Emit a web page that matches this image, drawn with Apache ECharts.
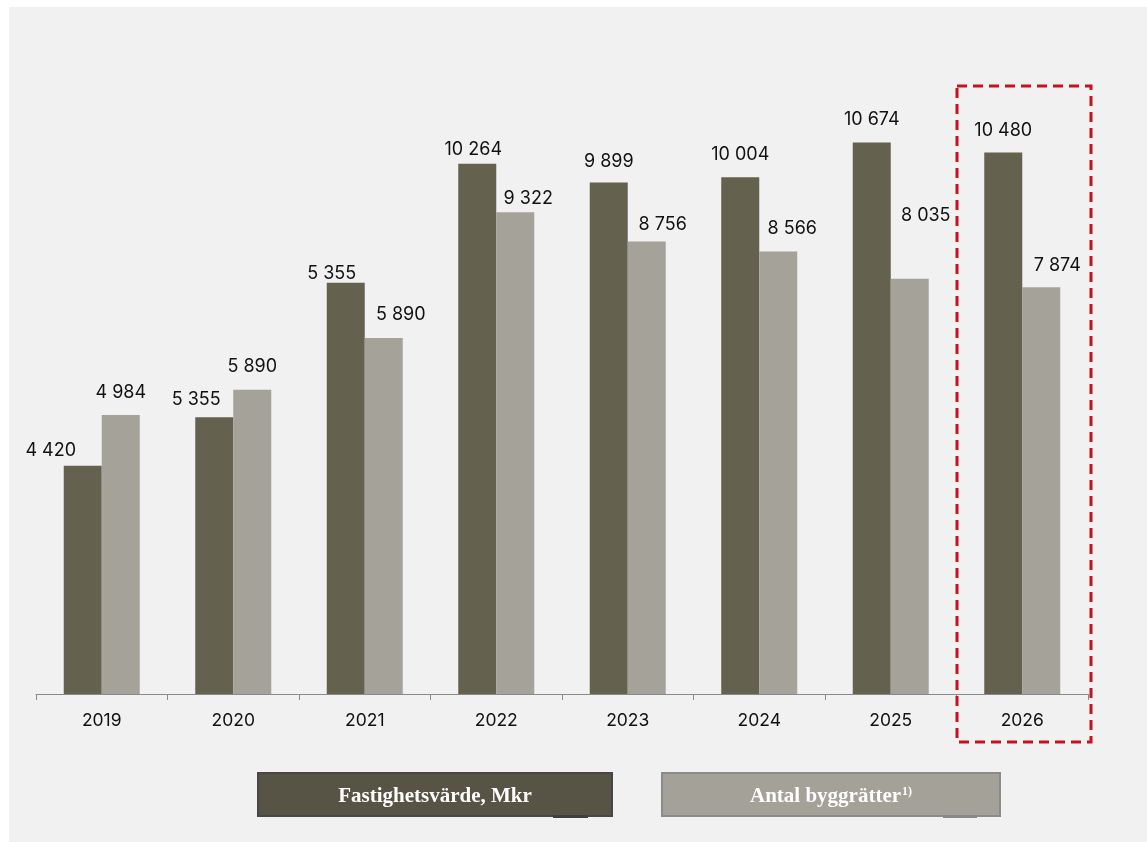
<!DOCTYPE html>
<html>
<head>
<meta charset="utf-8">
<script src="https://cdn.jsdelivr.net/npm/echarts@6/dist/echarts.min.js"></script>
<style>
html,body{margin:0;padding:0;background:#ffffff;}
#chart{width:1147px;height:842px;}
</style>
</head>
<body>
<div id="chart"></div>
<script>
// ---- data ----
var years = ['2019','2020','2021','2022','2023','2024','2025','2026'];
// bar heights as drawn in the picture
var fastighetsvarde = [4420, 5355, 7961, 10264, 9899, 10004, 10674, 10480];
var byggratter = [5400, 5890, 6890, 9322, 8756, 8566, 8035, 7874];
// value labels as printed
var fastighetsvardeLabels = ['4 420','5 355','5 355','10 264','9 899','10 004','10 674','10 480'];
var byggratterLabels = ['4 984','5 890','5 890','9 322','8 756','8 566','8 035','7 874'];
var seriesNames = ['Fastighetsvärde, Mkr', 'Antal byggrätter'];
var highlightYear = '2026';

// ---- styling (label nudges) ----
var darkLabelNudge = [[-32,-6],[-18,-9],[-14,0],[-4,-5],[0,-12],[0,-14],[0,-14],[0,-13]];
var lightLabelNudge = [[0,-13],[0,-14],[17,-14],[13,-5],[16,-8],[14,-14],[16,-54],[16,-13]];

var DARK = '#65614f', LIGHT = '#a5a29a';
var numFont = 'Inter, "Noto Sans", sans-serif';

function buildData(vals, labels, nudges) {
  return vals.map(function (v, i) {
    return { value: v, label: { formatter: labels[i], offset: nudges[i] } };
  });
}

var chart = echarts.init(document.getElementById('chart'), null, {renderer: 'canvas'});
var option = {
  backgroundColor: 'transparent',
  animation: false,
  grid: { left: 36, right: 59, top: 74, bottom: 148, containLabel: false },
  xAxis: {
    type: 'category',
    data: years,
    axisLine: { lineStyle: { color: '#8a8a8a', width: 1 } },
    axisTick: { show: true, length: 6, lineStyle: { color: '#8a8a8a' } },
    axisLabel: { color: '#111', fontFamily: numFont, fontSize: 17.5, margin: 18 }
  },
  yAxis: {
    type: 'value', min: 0, max: 12000,
    show: false, splitLine: { show: false }
  },
  series: [
    {
      name: seriesNames[0], type: 'bar', barWidth: 38, barGap: '0%',
      itemStyle: { color: DARK },
      label: { show: true, position: 'top', distance: 0, color: '#111', fontFamily: numFont, fontSize: 18 },
      data: buildData(fastighetsvarde, fastighetsvardeLabels, darkLabelNudge)
    },
    {
      name: seriesNames[1], type: 'bar', barWidth: 38, barGap: '0%',
      itemStyle: { color: LIGHT },
      label: { show: true, position: 'top', distance: 0, color: '#111', fontFamily: numFont, fontSize: 18 },
      data: buildData(byggratter, byggratterLabels, lightLabelNudge)
    }
  ]
};
chart.setOption(option);

// highlight box around last category
var cx = chart.convertToPixel({ xAxisIndex: 0 }, highlightYear);
var band = (1147 - 36 - 59) / years.length;
var boxLeft = cx - band / 2 + 0.5, boxRight = cx + band / 2 + 3;

var serif = '"Liberation Serif", "DejaVu Serif", serif';
chart.setOption({
  graphic: [
    { type: 'rect', z: -10, silent: true, shape: { x: 9, y: 7, width: 1147, height: 842 }, style: { fill: '#f1f1f1' } },
    { type: 'rect', z: 100, silent: true,
      shape: { x: boxLeft, y: 86, width: boxRight - boxLeft, height: 742 - 86 },
      style: { fill: 'none', stroke: '#c8101e', lineWidth: 3, lineDash: [10, 6] } },
    // legend: dark
    { type: 'rect', silent: true, shape: { x: 258, y: 773, width: 354, height: 43 },
      style: { fill: '#575445', stroke: '#474747', lineWidth: 2 } },
    { type: 'rect', silent: true, shape: { x: 553, y: 815, width: 35, height: 3 }, style: { fill: '#3f3f3f' } },
    { type: 'text', silent: true, x: 435, y: 797,
      style: { text: seriesNames[0], fill: '#ffffff', font: 'bold 21px ' + serif, align: 'center', verticalAlign: 'middle' } },
    // legend: light
    { type: 'rect', silent: true, shape: { x: 662, y: 773, width: 338, height: 43 },
      style: { fill: '#a4a199', stroke: '#8b8b89', lineWidth: 2 } },
    { type: 'rect', silent: true, shape: { x: 943, y: 815, width: 34, height: 3 }, style: { fill: '#888888' } },
    { type: 'text', silent: true, x: 831, y: 797,
      style: { text: '{a|' + seriesNames[1] + '}{s|1)}', fill: '#ffffff', align: 'center', verticalAlign: 'middle',
        rich: {
          a: { font: 'bold 21px ' + serif, fill: '#ffffff' },
          s: { font: 'bold 12px ' + serif, fill: '#ffffff', verticalAlign: 'top', padding: [0, 0, 11, 1] }
        } } }
  ]
});
</script>
</body>
</html>
